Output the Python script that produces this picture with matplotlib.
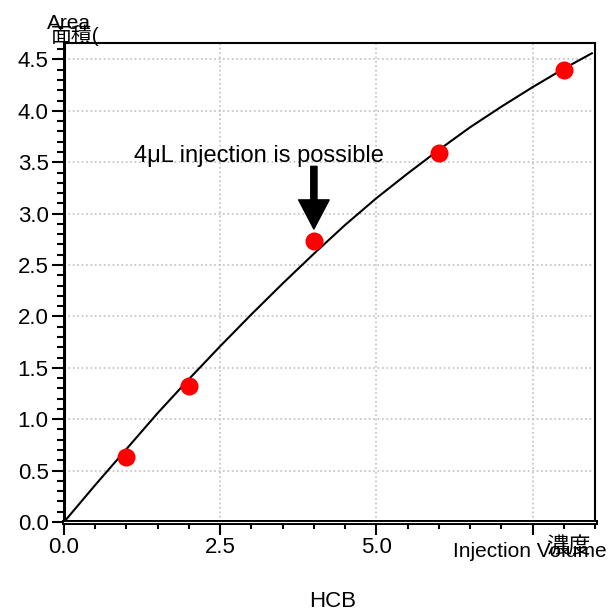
import numpy as np
import matplotlib
matplotlib.use("Agg")
import matplotlib.pyplot as plt
import matplotlib.patheffects as pe
from matplotlib.ticker import MultipleLocator

plt.rcParams['font.family'] = ['Liberation Sans', 'Noto Sans CJK JP', 'DejaVu Sans']

# measured points (injection volume uL, area)
vol = [1, 2, 4, 6, 8]
area = [0.63, 1.32, 2.73, 3.59, 4.40]

# calibration curve
curve_x = [0, 0.5, 1, 1.5, 2, 2.5, 3, 3.5, 4, 4.5, 5, 5.5, 6, 6.5, 7, 7.5, 8, 8.45]
curve_y = [0, 0.36, 0.71, 1.06, 1.39, 1.71, 2.02, 2.32, 2.61, 2.89, 3.15, 3.39,
           3.62, 3.84, 4.04, 4.23, 4.41, 4.56]

xticks = [0, 2.5, 5.0, 7.5]
xtick_labels = ['0.0', '2.5', '5.0', '']
yticks = [0, 0.5, 1.0, 1.5, 2.0, 2.5, 3.0, 3.5, 4.0, 4.5]
ytick_labels = ['0.0', '0.5', '1.0', '1.5', '2.0', '2.5', '3.0', '3.5', '4.0', '4.5']

W, H = 611, 612
fig = plt.figure(figsize=(W / 100, H / 100), dpi=100)
ax = fig.add_axes([64 / W, 1 - 522 / H, (595 - 64) / W, (522 - 43) / H])

def px(x, y):
    return x / W, 1 - y / H

ax.plot(curve_x, curve_y, color='black', lw=1.5, zorder=3)
ax.plot(vol, area, 'o', color='red', ms=13, mec='none', zorder=4)

ax.set_xlim(0, 8.5)
ax.set_ylim(0, 4.66)
ax.set_xticks(xticks)
ax.set_xticklabels(xtick_labels)
ax.set_yticks(yticks)
ax.set_yticklabels(ytick_labels)
ax.xaxis.set_minor_locator(MultipleLocator(0.5))
ax.yaxis.set_minor_locator(MultipleLocator(0.1))
ax.tick_params(axis='both', which='major', direction='out', length=9, width=1.5,
               labelsize=16, color='black')
ax.tick_params(axis='both', which='minor', direction='out', length=5, width=1.5)
ax.tick_params(axis='x', which='major', pad=2)
ax.tick_params(axis='y', which='major', pad=2)

ax.grid(True, which='major', color='#c0c0c0', ls=':', lw=1.2)

ax.spines['left'].set_linewidth(2.2)
ax.spines['right'].set_linewidth(1.5)
ax.spines['top'].set_linewidth(1.5)
ax.spines['bottom'].set_color('white')
ax.spines['bottom'].set_linewidth(0.8)
ax.spines['bottom'].set_path_effects([pe.Stroke(linewidth=3.6, foreground='black'), pe.Normal()])

# annotation
ax.text(1.12, 3.50, '4\u03bcL injection is possible', fontsize=17, ha='left', va='baseline')
ax.annotate('', xy=(4, 2.85), xytext=(4, 3.46),
            arrowprops=dict(facecolor='black', edgecolor='black', width=4.5,
                            headwidth=22, headlength=21, shrink=0))

# axis labels placed like the original
fig.text(*px(47, 29), 'Area', fontsize=15, ha='left', va='baseline')
fig.text(*px(51, 42), '面積(', fontsize=15, ha='left', va='baseline')
fig.text(*px(453, 557), 'Injection Volume', fontsize=15, ha='left', va='baseline')
fig.text(*px(546, 553), '濃度', fontsize=16, ha='left', va='baseline')
fig.text(*px(333, 607), 'HCB', fontsize=16, ha='center', va='baseline')

fig.savefig('out.png', dpi=100)
